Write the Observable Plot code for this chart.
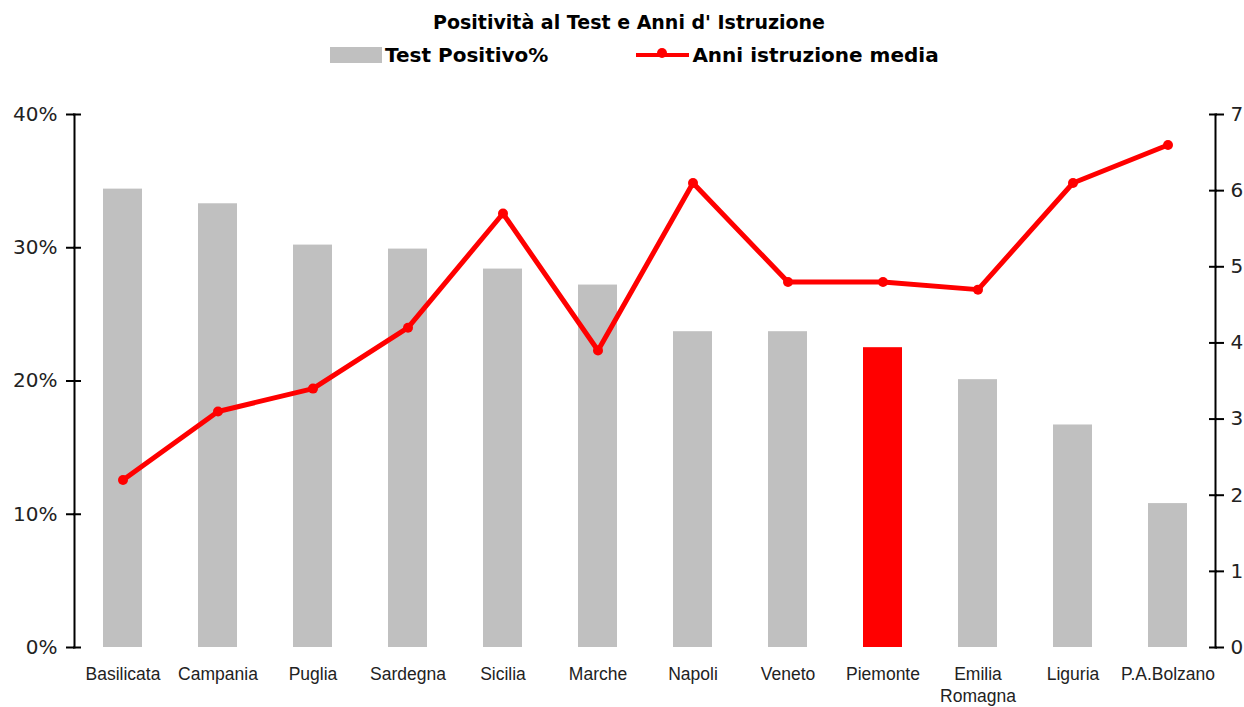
<!DOCTYPE html>
<html>
<head>
<meta charset="utf-8">
<script src="https://cdn.jsdelivr.net/npm/d3@7"></script>
<script src="https://cdn.jsdelivr.net/npm/@observablehq/plot@0.6"></script>
<style>
  html, body { margin: 0; padding: 0; background: #fff; }
  body { width: 1244px; height: 707px; overflow: hidden; font-family: "DejaVu Sans", sans-serif; }
  #title { position: absolute; top: 11px; left: 0; width: 1258px; text-align: center; font-weight: bold; font-size: 19px; color: #000; }
  #legend { position: absolute; top: 42px; left: 330px; display: flex; align-items: center; font-weight: bold; font-size: 20px; color: #000; }
  #legend .item { display: flex; align-items: center; }
  #chart { position: absolute; top: 80px; left: 0; }
</style>
</head>
<body>
<div id="title">Positività al Test e Anni d' Istruzione</div>
<div id="legend">
  <div class="item"><svg width="55" height="26"><rect x="0" y="5" width="52" height="16" fill="#c0c0c0"></rect></svg><span>Test Positivo%</span></div>
  <div class="item" style="margin-left:88px"><svg width="56" height="26"><line x1="0" y1="13" x2="53" y2="13" stroke="#ff0000" stroke-width="4"></line><circle cx="26" cy="11" r="5" fill="#ff0000"></circle></svg><span>Anni istruzione media</span></div>
</div>
<div id="chart"></div>
<script>
const regions = ["Basilicata","Campania","Puglia","Sardegna","Sicilia","Marche","Napoli","Veneto","Piemonte","Emilia Romagna","Liguria","P.A.Bolzano"];
const positivity = [0.344,0.333,0.302,0.299,0.284,0.272,0.237,0.237,0.225,0.201,0.167,0.108];
const education = [2.2,3.1,3.4,4.2,5.7,3.9,6.1,4.8,4.8,4.7,6.1,6.6];
const highlight = "Piemonte";
const leftTicks = [0,0.1,0.2,0.3,0.4];
const rightTicks = [0,1,2,3,4,5,6,7];
const rightMax = 7;
const leftMax = 0.4;

const rows = regions.map((r,i) => ({region: r, pos: positivity[i], edu: education[i], eduScaled: education[i] / rightMax * leftMax}));

const chart = Plot.plot({
  width: 1244,
  height: 627,
  marginTop: 34,
  marginBottom: 60,
  marginLeft: 74,
  marginRight: 29,
  style: {fontFamily: "DejaVu Sans, sans-serif", color: "#000", background: "#fff"},
  x: {domain: regions, paddingInner: 0.59, paddingOuter: 0.295, label: null},
  y: {domain: [0, leftMax], label: null},
  marks: [
    Plot.barY(rows, {x: "region", y: "pos", fill: d => d.region === highlight ? "#ff0000" : "#c0c0c0"}),
    Plot.line(rows, {x: "region", y: "eduScaled", stroke: "#ff0000", strokeWidth: 5}),
    Plot.dot(rows, {x: "region", y: "eduScaled", r: 5, fill: "#ff0000"}),
    Plot.frame({anchor: "left", stroke: "#000", strokeWidth: 2}),
    Plot.frame({anchor: "right", stroke: "#000", strokeWidth: 2}),
    Plot.axisY(leftTicks, {anchor: "left", tickSize: 8, tickPadding: 9, tickFormat: d3.format(".0%"), fontSize: 20, fill: "#222", strokeWidth: 2, label: null}),
    Plot.axisY(leftTicks, {anchor: "left", tickSize: 8, dx: 7, text: null, strokeWidth: 2, label: null}),
    Plot.axisY(rightTicks.map(t => t / rightMax * leftMax), {anchor: "right", tickSize: 8, tickPadding: 7, tickFormat: d => String(Math.round(d / leftMax * rightMax)), fontSize: 20, fill: "#222", strokeWidth: 2, label: null}),
    Plot.axisY(rightTicks.map(t => t / rightMax * leftMax), {anchor: "right", tickSize: 8, dx: -7, text: null, strokeWidth: 2, label: null}),
    Plot.axisX({tickSize: 0, tickPadding: 16, fontSize: 17.5, fill: "#222", fontFamily: "Liberation Sans, Arial, sans-serif", tickFormat: d => d.replace(" ", "\n"), label: null, lineHeight: 1.3})
  ]
});
document.getElementById("chart").appendChild(chart);
</script>
</body>
</html>
